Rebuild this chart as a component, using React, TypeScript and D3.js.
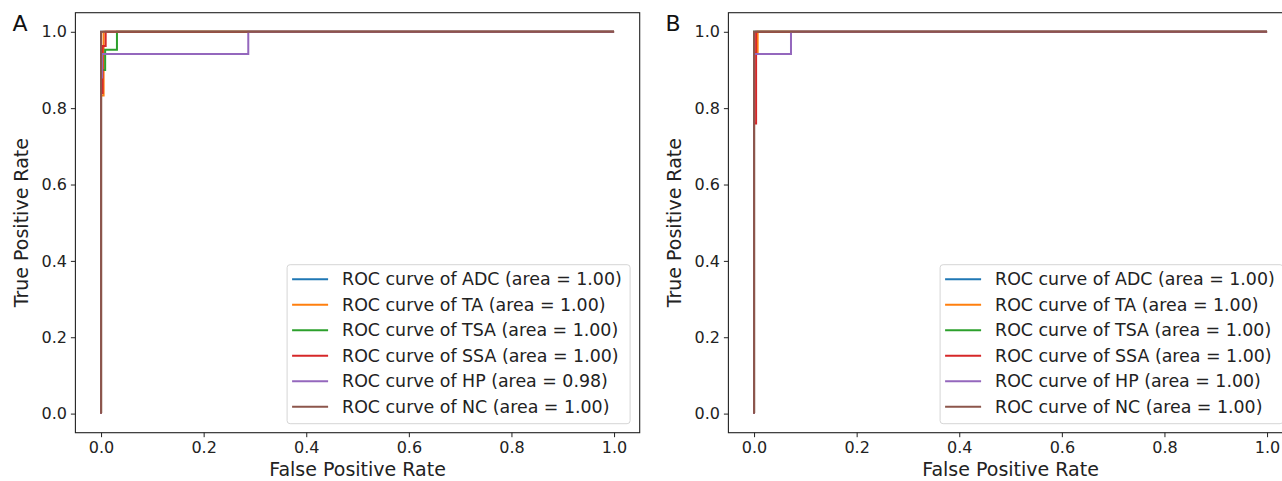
import React, { useEffect, useRef } from "react";
import * as d3 from "d3";

// class names, colours (matplotlib tab10) and AUC labels
const classes = ["ADC", "TA", "TSA", "SSA", "HP", "NC"];
const colors = ["#1f77b4", "#ff7f0e", "#2ca02c", "#d62728", "#9467bd", "#8c564b"];
const aucA = ["1.00", "1.00", "1.00", "1.00", "0.98", "1.00"];
const aucB = ["1.00", "1.00", "1.00", "1.00", "1.00", "1.00"];
const ticks = [0, 0.2, 0.4, 0.6, 0.8, 1.0];

// ROC points [fpr, tpr], panel A
const A_ADC = [[0, 0], [0, 1], [1, 1]];
const A_TA = [[0, 0], [0, 0.833], [0.005, 0.833], [0.005, 1], [1, 1]];
const A_TSA = [[0, 0], [0, 0.9], [0.008, 0.9], [0.008, 0.953], [0.031, 0.953], [0.031, 1], [1, 1]];
const A_SSA = [[0, 0], [0, 0.84], [0.003, 0.84], [0.003, 0.963], [0.009, 0.963], [0.009, 1], [1, 1]];
const A_HP = [[0, 0], [0, 0.88], [0.002, 0.88], [0.002, 0.942], [0.287, 0.942], [0.287, 1], [1, 1]];
const A_NC = [[0, 0], [0, 1], [1, 1]];

// panel B
const B_ADC = [[0, 0], [0, 1], [1, 1]];
const B_TA = [[0, 0], [0, 0.945], [0.007, 0.945], [0.007, 1], [1, 1]];
const B_TSA = [[0, 0], [0, 1], [1, 1]];
const B_SSA = [[0, 0], [0, 0.76], [0.004, 0.76], [0.004, 1], [1, 1]];
const B_HP = [[0, 0], [0, 0.942], [0.072, 0.942], [0.072, 1], [1, 1]];
const B_NC = [[0, 0], [0, 1], [1, 1]];

const panels = [
  { label: "A", left: 75.4, curves: [A_ADC, A_TA, A_TSA, A_SSA, A_HP, A_NC], auc: aucA },
  { label: "B", left: 728.4, curves: [B_ADC, B_TA, B_TSA, B_SSA, B_HP, B_NC], auc: aucB },
];

const W = 1282;
const H = 481;
const plotW = 564.3;
const top = 12.7;
const bottom = 432.7;
const font = "DejaVu Sans, sans-serif";

export default function App() {
  const ref = useRef<SVGSVGElement>(null);

  useEffect(() => {
    const svg = d3.select(ref.current);
    svg.selectAll("*").remove();

    panels.forEach((p) => {
      const x = d3.scaleLinear().domain([-0.05, 1.05]).range([p.left, p.left + plotW]);
      const y = d3.scaleLinear().domain([-0.05, 1.05]).range([bottom, top]);
      const g = svg.append("g");

      // curves
      const line = d3
        .line<number[]>()
        .x((d) => x(d[0]))
        .y((d) => y(d[1]));
      p.curves.forEach((c, i) => {
        g.append("path")
          .attr("d", line(c))
          .attr("fill", "none")
          .attr("stroke", colors[i])
          .attr("stroke-width", 2)
          .attr("stroke-linejoin", "miter");
      });

      // frame
      g.append("rect")
        .attr("x", x(-0.05))
        .attr("y", top)
        .attr("width", plotW)
        .attr("height", bottom - top)
        .attr("fill", "none")
        .attr("stroke", "#222")
        .attr("stroke-width", 1.1);

      // x axis
      const xAxis = d3
        .axisBottom(x)
        .tickValues(ticks)
        .tickFormat(d3.format(".1f"))
        .tickSize(4.5)
        .tickPadding(4);
      const xa = g.append("g").attr("transform", `translate(0,${bottom})`).call(xAxis);
      xa.select(".domain").remove();
      xa.selectAll("text").attr("font-family", font).attr("font-size", 16).attr("fill", "#222");
      xa.selectAll("line").attr("stroke", "#222").attr("stroke-width", 1);

      // y axis
      const yAxis = d3
        .axisLeft(y)
        .tickValues(ticks)
        .tickFormat(d3.format(".1f"))
        .tickSize(4.5)
        .tickPadding(4);
      const ya = g.append("g").attr("transform", `translate(${p.left},0)`).call(yAxis);
      ya.select(".domain").remove();
      ya.selectAll("text").attr("font-family", font).attr("font-size", 16).attr("fill", "#222");
      ya.selectAll("line").attr("stroke", "#222").attr("stroke-width", 1);

      // axis titles
      g.append("text")
        .attr("x", (x(-0.05) + x(1.05)) / 2)
        .attr("y", 476)
        .attr("text-anchor", "middle")
        .attr("font-family", font)
        .attr("font-size", 19)
        .attr("fill", "#222")
        .text("False Positive Rate");
      g.append("text")
        .attr("transform", `translate(${p.left - 47},${(top + bottom) / 2}) rotate(-90)`)
        .attr("text-anchor", "middle")
        .attr("font-family", font)
        .attr("font-size", 19)
        .attr("fill", "#222")
        .text("True Positive Rate");

      // panel label
      g.append("text")
        .attr("x", p.left - 63)
        .attr("y", 31)
        .attr("font-family", font)
        .attr("font-size", 22)
        .attr("fill", "#111")
        .text(p.label);

      // legend, lower right
      const boxW = 343;
      const boxH = 159;
      const bx = p.left + plotW - 9.6 - boxW;
      const by = bottom - 9 - boxH;
      const lg = g.append("g").attr("transform", `translate(${bx},${by})`);
      lg.append("rect")
        .attr("width", boxW)
        .attr("height", boxH)
        .attr("rx", 3)
        .attr("fill", "white")
        .attr("fill-opacity", 0.8)
        .attr("stroke", "#d6d6d6")
        .attr("stroke-width", 1);
      classes.forEach((c, i) => {
        const ry = 14.5 + i * 25.5;
        lg.append("line")
          .attr("x1", 5)
          .attr("x2", 41)
          .attr("y1", ry)
          .attr("y2", ry)
          .attr("stroke", colors[i])
          .attr("stroke-width", 2);
        lg.append("text")
          .attr("x", 55)
          .attr("y", ry)
          .attr("dy", "0.36em")
          .attr("font-family", font)
          .attr("font-size", 17.4)
          .attr("fill", "#222")
          .text(`ROC curve of ${c} (area = ${p.auc[i]})`);
      });
    });
  }, []);

  return (
    <svg
      ref={ref}
      width={W}
      height={H}
      style={{ position: "absolute", left: 0, top: 0, background: "white" }}
    ></svg>
  );
}
